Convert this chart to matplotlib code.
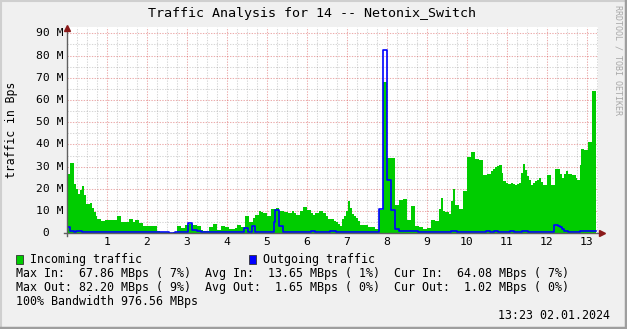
import matplotlib
matplotlib.use('Agg')
import matplotlib.pyplot as plt
from matplotlib.lines import Line2D
from matplotlib.patches import Rectangle
from matplotlib.transforms import blended_transform_factory
import numpy as np

# traffic data, step starts in minutes since 00:00, values in MBps
in_start = [0, 5, 11, 14, 17, 20, 23, 26, 29, 35, 38, 41, 44, 46, 52, 58, 76, 82, 94, 100,
            103, 109, 114, 136, 140, 152, 160, 165, 171, 177, 183, 189, 195, 201, 204, 213,
            219, 225, 231, 237, 243, 252, 255, 261, 267, 273, 279, 282, 288, 291, 294, 300,
            307, 314, 318, 326, 332, 338, 341, 344, 350, 355, 360, 366, 369, 372, 378, 384,
            389, 392, 401, 404, 407, 410, 413, 416, 419, 422, 425, 428, 431, 434, 437, 440,
            452, 463, 469, 475, 481, 493, 499, 505, 511, 517, 522, 528, 534, 540, 546, 552,
            558, 561, 564, 567, 573, 576, 579, 582, 588, 594, 600, 606, 612, 618, 624, 630,
            636, 639, 642, 645, 648, 653, 654, 659, 662, 666, 669, 672, 675, 678, 681, 684,
            687, 690, 693, 696, 699, 702, 705, 708, 711, 714, 720, 726, 732, 740, 743, 746,
            749, 752, 758, 764, 765, 770, 771, 776, 782, 788]
in_val = [26.7, 31.6, 22.2, 20.0, 17.7, 19.5, 21.3, 17.2, 13.2, 13.6, 11.4, 9.6, 7.8, 6.4, 5.5,
          6.0, 7.8, 5.1, 6.4, 5.2, 6.0, 4.8, 3.3, 1.0, 0.6, 0.0, 0.6, 3.3, 2.4, 3.75, 4.0, 3.75,
          3.3, 1.5, 1.0, 2.85, 4.2, 1.5, 3.3, 2.85, 1.95, 2.4, 3.75, 2.85, 7.8, 5.1, 6.9, 8.25,
          10.0, 9.6, 9.15, 7.8, 10.9, 11.4, 10.0, 9.6, 9.15, 10.0, 9.15, 8.25, 10.0, 11.85,
          10.5, 9.15, 8.25, 9.15, 10.0, 9.15, 7.8, 6.45, 5.55, 5.1, 4.2, 3.3, 6.45, 7.8, 10.0,
          14.5, 11.4, 8.7, 7.8, 6.9, 5.55, 3.75, 2.85, 1.8, 10.4, 68.1, 33.9, 12.75, 15.0,
          15.45, 6.0, 12.3, 3.3, 2.85, 1.95, 2.4, 6.0, 5.55, 10.95, 15.9, 10.0, 9.6, 8.7,
          14.55, 19.95, 12.75, 10.95, 19.0, 34.35, 36.6, 33.45, 33.0, 26.25, 26.7, 28.0, 28.9,
          29.85, 30.3, 30.75, 27.15, 23.55, 22.65, 22.2, 22.65, 22.2, 21.75, 22.2, 22.65,
          27.15, 31.2, 28.5, 25.8, 24.0, 21.75, 22.65, 23.55, 24.0, 24.9, 23.1, 21.75, 26.25,
          21.75, 28.95, 26.7, 24.9, 26.7, 28.0, 26.7, 26.25, 24.9, 24.0, 30.75, 37.95, 37.5,
          41.1, 64.05]

out_start = [0, 5, 11, 14, 23, 153, 162, 182, 188, 195, 201, 266, 272, 278, 283, 311, 313,
             318, 324, 366, 372, 395, 404, 469, 475, 481, 487, 493, 499, 527, 576, 585, 629,
             635, 641, 647, 665, 671, 683, 692, 731, 737, 740, 743, 746, 752, 770]
out_val = [2.7, 0.9, 0.45, 0.9, 0.45, 0.0, 0.45, 4.5, 1.35, 0.9, 0.45, 2.25, 0.45, 3.3, 0.45,
           5.3, 10.3, 3.1, 0.45, 0.9, 0.45, 0.9, 0.45, 10.8, 82.5, 23.85, 10.35, 1.95, 0.9,
           0.45, 0.9, 0.45, 0.9, 0.45, 0.9, 0.45, 0.9, 0.45, 0.9, 0.45, 3.6, 3.15, 2.7, 1.8,
           0.9, 0.45, 1.02]
end_min = 794

hour_ticks = list(range(1, 14))
mbps_ticks = list(range(0, 91, 10))

W, H = 627, 329
MONO = 'DejaVu Sans Mono'

fig = plt.figure(figsize=(W / 100, H / 100), dpi=100)
fig.patch.set_facecolor('#F0F0F0')

left, right, bottom, top = 66.7, 598, 233.3, 27
ax = fig.add_axes([left / W, 1 - bottom / H, (right - left) / W, (bottom - top) / H])
ax.set_facecolor('white')
ax.set_xlim(0, (right - left) * 1.5)
ax.set_ylim(0, (bottom - top) / 2.2222)

# grid
ax.set_xticks([h * 60 for h in hour_ticks])
ax.set_xticks(np.arange(15, 800, 15), minor=True)
ax.set_yticks(mbps_ticks)
ax.set_yticks(np.arange(5, 91, 10), minor=True)
ax.grid(which='minor', color='#8C8C8C', alpha=0.35, lw=0.75, ls=(0, (1.3, 1.3)))
ax.grid(which='major', color='#D03030', alpha=0.4, lw=0.75, ls=(0, (1.3, 1.3)))
ax.set_axisbelow(True)
ax.tick_params(which='both', length=0)
ax.tick_params(axis='x', pad=2.5)
ax.set_xticklabels([str(h) for h in hour_ticks], fontfamily=MONO, fontsize=8.2)
ax.set_yticklabels([])
for s in ax.spines.values():
    s.set_visible(False)

# incoming area, outgoing line
xi = np.array(in_start + [end_min])
yi = np.array(in_val + [in_val[-1]])
ax.fill_between(xi, yi, step='post', color='#00CC00', lw=0)
xo = np.array(out_start + [end_min])
yo = np.array(out_val + [out_val[-1]])
ax.step(xo, yo, where='post', color='#0000FF', lw=1.2)

# y labels
trans = blended_transform_factory(fig.transFigure, ax.transData)
for v in mbps_ticks:
    lab = '%2d M' % v if v else ' 0'
    ax.text(35.5 / W, v, lab, transform=trans, ha='left', va='center',
            fontfamily=MONO, fontsize=8.2)

# axes with arrows
def fx(x):
    return x / W

def fy(y):
    return 1 - y / H

fig.add_artist(Line2D([fx(left), fx(left)], [fy(bottom + 3), fy(top + 2)], color='#606060', lw=1))
fig.add_artist(Line2D([fx(left - 3), fx(601)], [fy(bottom), fy(bottom)], color='#606060', lw=1))
fig.add_artist(Line2D([fx(left)], [fy(top + 1)], marker='^', ms=4.5, color='#8B1A1A', lw=0))
fig.add_artist(Line2D([fx(602)], [fy(bottom)], marker='>', ms=4.5, color='#8B1A1A', lw=0))

# border shading
fig.add_artist(Line2D([0, 1], [fy(0.5), fy(0.5)], color='#CFCFCF', lw=1.5))
fig.add_artist(Line2D([fx(0.5), fx(0.5)], [0, 1], color='#CFCFCF', lw=1.5))
fig.add_artist(Line2D([0, 1], [fy(H - 1), fy(H - 1)], color='#9E9E9E', lw=2.5))
fig.add_artist(Line2D([fx(W - 1), fx(W - 1)], [0, 1], color='#9E9E9E', lw=2.5))

# texts
fig.text(fx(312.5), fy(13.3), 'Traffic Analysis for 14 -- Netonix_Switch', ha='center', va='center',
         fontfamily=MONO, fontsize=9.6)
fig.text(fx(12), fy(130), 'traffic in Bps', rotation=90, ha='center', va='center',
         fontfamily=MONO, fontsize=8.3)
fig.text(fx(618), fy(5), 'RRDTOOL / TOBI OETIKER', rotation=270, ha='center', va='top',
         fontfamily=MONO, fontsize=6, color='#A8A8A8')

fig.add_artist(Rectangle((fx(16), fy(264)), 7 / W, 9.5 / H, facecolor='#00CC00', edgecolor='#333333', lw=0.6))
fig.add_artist(Rectangle((fx(249), fy(264)), 7 / W, 9.5 / H, facecolor='#0000FF', edgecolor='#333333', lw=0.6))
fig.text(fx(30.5), fy(259.5), 'Incoming traffic', va='center', fontfamily=MONO, fontsize=8.4)
fig.text(fx(263), fy(259.5), 'Outgoing traffic', va='center', fontfamily=MONO, fontsize=8.4)
fig.text(fx(16), fy(273.5), 'Max In:  67.86 MBps ( 7%)  Avg In:  13.65 MBps ( 1%)  Cur In:  64.08 MBps ( 7%)',
         va='center', fontfamily=MONO, fontsize=8.4)
fig.text(fx(16), fy(287.5), 'Max Out: 82.20 MBps ( 9%)  Avg Out:  1.65 MBps ( 0%)  Cur Out:  1.02 MBps ( 0%)',
         va='center', fontfamily=MONO, fontsize=8.4)
fig.text(fx(16), fy(301.5), '100% Bandwidth 976.56 MBps', va='center', fontfamily=MONO, fontsize=8.4)
fig.text(fx(610), fy(315.5), '13:23 02.01.2024', ha='right', va='center', fontfamily=MONO, fontsize=8.4)

fig.savefig('out.png', dpi=100, facecolor=fig.get_facecolor())
